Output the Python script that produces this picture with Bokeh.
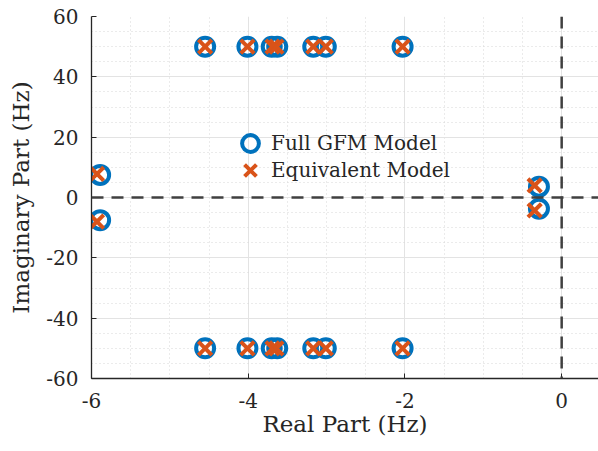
from bokeh.plotting import figure
from bokeh.models import Span, Legend, LegendItem, FixedTicker, ColumnDataSource
from bokeh.embed import file_html
from bokeh.resources import INLINE

# ---- data ----
full_re = [-4.55, -4.01, -3.70, -3.63, -3.17, -3.01, -2.03,
           -4.55, -4.01, -3.70, -3.63, -3.17, -3.01, -2.03,
           -5.89, -5.89, -0.29, -0.29]
full_im = [50, 50, 50, 50, 50, 50, 50,
           -50, -50, -50, -50, -50, -50, -50,
           7.5, -7.5, 3.6, -3.7]
equiv_re = [-4.55, -4.01, -3.69, -3.64, -3.17, -3.01, -2.03,
            -4.55, -4.01, -3.69, -3.64, -3.17, -3.01, -2.03,
            -5.93, -5.93, -0.345, -0.345]
equiv_im = [50, 50, 50, 50, 50, 50, 50,
            -50, -50, -50, -50, -50, -50, -50,
            7.8, -8.0, 4.0, -4.3]

x_ticks = [-6, -4, -2, 0]
x_tick_labels = ["-6", "-4", "-2", "0"]
y_ticks = [-60, -40, -20, 0, 20, 40, 60]
y_tick_labels = ["-60", "-40", "-20", "0", "20", "40", "60"]
x_minor = [v / 2 for v in range(-12, 2)]
y_minor = list(range(-60, 61, 5))

series_names = ["Full GFM Model", "Equivalent Model"]
blue = "#0072BD"
orange = "#D95319"
FONT = "DejaVu Serif"

p = figure(width=598, height=451, output_backend="svg", toolbar_location=None,
           x_range=(-6, 0.47), y_range=(-60, 60),
           min_border_left=91, min_border_right=0, min_border_top=16, min_border_bottom=73,
           x_axis_label="Real Part (Hz)", y_axis_label="Imaginary Part (Hz)")
p.outline_line_color = None
p.background_fill_color = "white"

p.xaxis.ticker = FixedTicker(ticks=x_ticks, minor_ticks=x_minor)
p.yaxis.ticker = FixedTicker(ticks=y_ticks, minor_ticks=y_minor)
p.xaxis.major_label_overrides = dict(zip(x_ticks, x_tick_labels))
p.yaxis.major_label_overrides = dict(zip(y_ticks, y_tick_labels))

for ax in (p.xaxis, p.yaxis):
    ax.axis_line_color = "#262626"
    ax.axis_line_width = 1.3
    ax.major_tick_line_color = "#262626"
    ax.major_tick_in = 5
    ax.major_tick_out = 0
    ax.minor_tick_line_color = None
    ax.major_label_text_font = FONT
    ax.major_label_text_font_size = "20px"
    ax.major_label_text_color = "#262626"
    ax.axis_label_text_font = FONT
    ax.axis_label_text_font_size = "23px"
    ax.axis_label_text_font_style = "normal"
    ax.axis_label_text_color = "#262626"
p.xaxis.major_label_standoff = 10
p.xaxis.axis_label_standoff = 0
p.yaxis.major_label_standoff = 9
p.yaxis.axis_label_standoff = 9

for g in (p.xgrid, p.ygrid):
    g.grid_line_color = "#e3e3e3"
    g.grid_line_width = 1
    g.minor_grid_line_color = "#d6d6d6"
    g.minor_grid_line_dash = "1 3"
    g.minor_grid_line_width = 1

p.add_layout(Span(location=0, dimension="height", line_color="#404040",
                  line_width=2.5, line_dash="12 8"))
p.add_layout(Span(location=0, dimension="width", line_color="#404040",
                  line_width=2.5, line_dash="12 8"))

src_full = ColumnDataSource(dict(x=full_re, y=full_im))
src_eq = ColumnDataSource(dict(x=equiv_re, y=equiv_im))
r1 = p.scatter("x", "y", source=src_full, marker="circle", size=18,
               fill_color=None, line_color=blue, line_width=4)
r2 = p.scatter("x", "y", source=src_eq, marker="x", size=19,
               line_color=orange, line_width=4)

common = dict(orientation="vertical", glyph_width=42, glyph_height=42, label_height=20,
              spacing=0, label_standoff=0, padding=0, margin=0,
              border_line_color=None, background_fill_alpha=0,
              label_text_font=FONT, label_text_font_size="20px",
              label_text_color="#262626")
legend1 = Legend(items=[LegendItem(label=series_names[0], renderers=[r1])],
                 location=(138, 214), **common)
legend2 = Legend(items=[LegendItem(label=series_names[1], renderers=[r2])],
                 location=(138, 187), **common)
p.add_layout(legend1, "center")
p.add_layout(legend2, "center")

open("out.html", "w").write(file_html(p, INLINE))
